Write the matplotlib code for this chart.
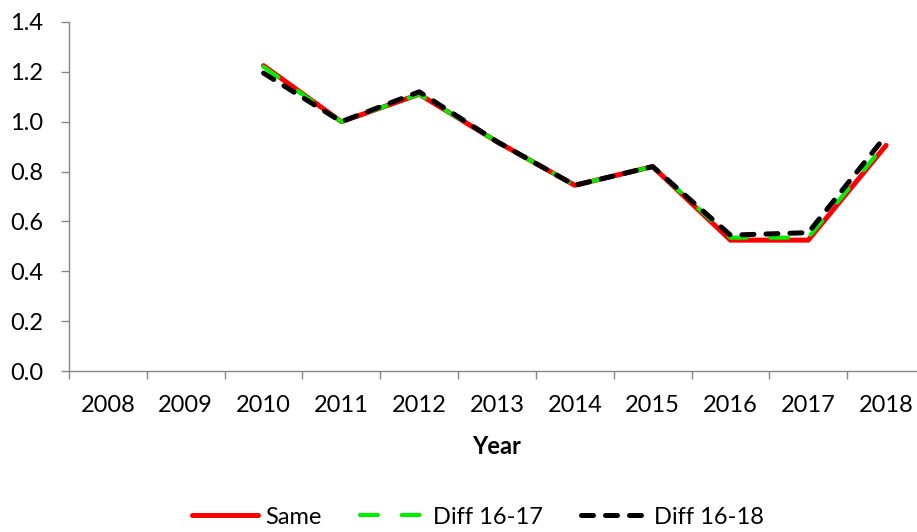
import numpy as np
import matplotlib.pyplot as plt

plt.rcParams['font.family'] = ['Lato', 'DejaVu Sans']

years = ['2008', '2009', '2010', '2011', '2012', '2013', '2014', '2015', '2016', '2017', '2018']
same = [np.nan, np.nan, 1.225, 1.00, 1.11, 0.92, 0.745, 0.82, 0.525, 0.525, 0.905]
diff_16_17 = [np.nan, np.nan, 1.22, 1.00, 1.11, 0.92, 0.745, 0.82, 0.535, 0.535, 0.915]
diff_16_18 = [np.nan, np.nan, 1.195, 1.00, 1.12, 0.92, 0.745, 0.82, 0.545, 0.555, 0.945]

grey = '#868686'

fig = plt.figure(figsize=(9.17, 5.32), dpi=100)
ax = fig.add_axes([69/917, 161/532, 856/917, 349/532])

x = np.arange(len(years))
ax.plot(x, same, color='#ff0000', lw=3.6, label='Same', solid_capstyle='round')
ax.plot(x, diff_16_17, color='#00ee00', lw=3.0, dashes=(4.3, 5.7), dash_capstyle='round',
        label='Diff 16-17')
ax.plot(x, diff_16_18, color='black', lw=3.6, dashes=(2.4, 2.4), dash_capstyle='round',
        label='Diff 16-18')

ax.set_xlim(-0.5, len(years) - 0.5)
ax.set_ylim(0, 1.4)
ax.set_yticks(np.arange(0, 1.41, 0.2))
ax.set_yticklabels(['%.1f' % v for v in np.arange(0, 1.41, 0.2)])
ax.set_xticks(x)
ax.set_xticklabels(years)
ax.set_xticks(np.arange(-0.5, len(years), 1), minor=True)

for s in ['top', 'right']:
    ax.spines[s].set_visible(False)
for s in ['left', 'bottom']:
    ax.spines[s].set_color(grey)
    ax.spines[s].set_linewidth(1.0)

ax.tick_params(axis='x', which='major', length=0, pad=17, labelsize=17)
ax.tick_params(axis='x', which='minor', length=5.5, color=grey, width=1.0)
ax.tick_params(axis='y', length=5.5, color=grey, width=1.0, pad=13, labelsize=17)

ax.set_xlabel('Year', fontsize=17, fontweight='bold', labelpad=14)

fig.legend(loc='center', bbox_to_anchor=(478/917, 15/532), ncol=3, frameon=False,
           fontsize=17, handlelength=2.8, handletextpad=0.3, columnspacing=1.6)

plt.savefig('out.png', dpi=100)
